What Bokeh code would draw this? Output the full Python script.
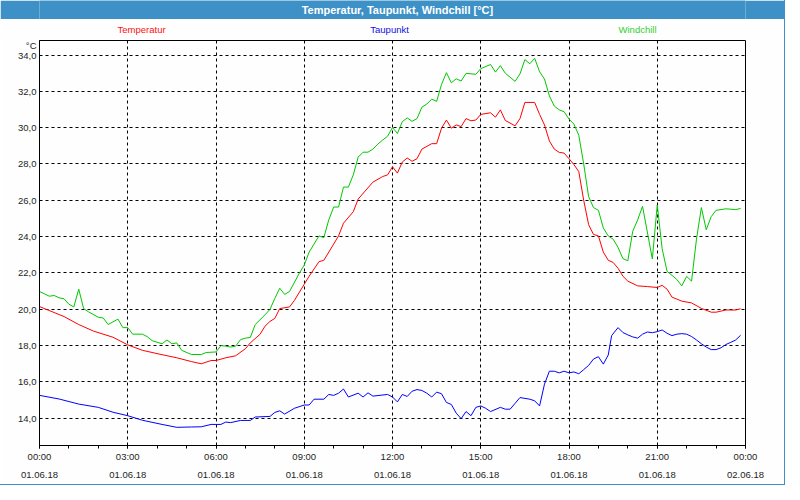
import pandas as pd
from bokeh.plotting import figure
from bokeh.layouts import column
from bokeh.models import (FixedTicker, DatetimeTickFormatter, CustomJSTickFormatter, Range1d)
from bokeh.core.properties import value
from bokeh.embed import file_html
from bokeh.resources import INLINE

# ---------------- data (minutes after midnight, 01.06.2018) ----------------
DAY = "2018-06-01"
TITLE = "Temperatur, Taupunkt, Windchill [°C]"
UNIT = "°C"
series_names = ["Temperatur", "Taupunkt", "Windchill"]

temp_minutes = [0, 50, 80, 110, 150, 180, 210, 250, 280, 310, 330, 350, 360, 380, 400, 420, 430, 450, 460, 470,
                480, 490, 510, 520, 540, 550, 570, 580, 600, 610, 620, 640, 650, 680, 700, 710, 720, 730, 740, 750,
                760, 770, 780, 800, 810, 820, 830, 840, 850, 860, 870, 880, 890, 900, 920, 930, 940, 950, 970, 980,
                990, 1010, 1020, 1030, 1040, 1050, 1060, 1070, 1080, 1090, 1100, 1110, 1120, 1130, 1140, 1150, 1160,
                1170, 1180, 1190, 1200, 1220, 1240, 1260, 1270, 1280, 1290, 1310, 1330, 1350, 1370, 1380, 1400, 1420,
                1430]
temp_values = [20.15, 19.6, 19.16, 18.8, 18.46, 18.04, 17.74, 17.5, 17.33, 17.12, 17.0, 17.18, 17.18, 17.33, 17.44,
               17.83, 18.15, 18.63, 19.07, 19.33, 19.5, 20.04, 20.13, 20.49, 21.38, 21.82, 22.62, 22.7, 23.59, 24.04,
               24.74, 25.37, 26.07, 27.0, 27.31, 27.4, 27.85, 27.5, 28.11, 28.33, 28.15, 28.29, 28.82, 29.12, 29.12,
               29.97, 30.42, 29.97, 30.15, 30.06, 30.5, 30.38, 30.42, 30.73, 30.82, 30.58, 30.98, 30.4, 30.1, 30.5,
               31.39, 31.39, 30.73, 30.15, 29.27, 28.82, 28.64, 28.6, 28.29, 27.97, 27.58, 26.0, 24.66, 24.12, 24.04,
               23.15, 22.7, 22.58, 22.26, 21.82, 21.55, 21.29, 21.25, 21.2, 21.32, 21.11, 20.67, 20.45, 20.35, 20.05,
               19.84, 19.84, 19.96, 19.96, 20.03]

dew_minutes = [0, 40, 80, 120, 150, 180, 210, 250, 280, 310, 330, 350, 370, 380, 390, 410, 430, 440, 470, 480,
               490, 500, 520, 540, 550, 560, 580, 590, 600, 610, 620, 630, 650, 660, 670, 680, 710, 720, 730, 740,
               750, 760, 770, 780, 790, 800, 810, 820, 830, 840, 850, 860, 870, 880, 890, 900, 910, 920, 940, 950,
               960, 970, 980, 1000, 1010, 1020, 1030, 1040, 1050, 1060, 1070, 1080, 1090, 1100, 1110, 1120, 1130,
               1140, 1150, 1160, 1167, 1180, 1190, 1200, 1210, 1220, 1230, 1240, 1250, 1260, 1270, 1280, 1290, 1300,
               1310, 1320, 1330, 1340, 1350, 1360, 1370, 1380, 1390, 1400, 1410, 1420, 1430]
dew_values = [15.26, 15.06, 14.78, 14.6, 14.33, 14.14, 13.89, 13.66, 13.5, 13.52, 13.53, 13.66, 13.66, 13.79, 13.76,
              13.88, 13.88, 14.07, 14.1, 14.32, 14.41, 14.23, 14.55, 14.73, 14.73, 15.05, 15.05, 15.31, 15.26, 15.38,
              15.61, 15.17, 15.38, 15.17, 15.4, 15.22, 15.31, 15.17, 14.9, 15.31, 15.2, 15.49, 15.58, 15.53, 15.38,
              15.17, 15.44, 15.35, 14.87, 14.76, 14.28, 13.98, 14.37, 14.14, 14.6, 14.68, 14.55, 14.37, 14.6, 14.5,
              14.5, 14.82, 15.14, 15.05, 14.96, 14.68, 15.88, 16.59, 16.59, 16.5, 16.59, 16.5, 16.55, 16.45, 16.68,
              16.91, 17.26, 17.39, 16.98, 17.48, 18.55, 18.99, 18.72, 18.59, 18.48, 18.41, 18.63, 18.75, 18.71, 18.77,
              18.86, 18.68, 18.55, 18.63, 18.66, 18.63, 18.5, 18.31, 18.1, 17.92, 17.78, 17.78, 17.88, 18.06, 18.18,
              18.31, 18.57]

wind_minutes = [0, 20, 30, 40, 50, 60, 70, 80, 90, 100, 120, 130, 140, 160, 170, 180, 190, 210, 220, 230, 250, 260,
                270, 280, 290, 310, 330, 340, 360, 370, 380, 390, 400, 410, 420, 430, 440, 460, 470, 480, 490, 500,
                510, 530, 540, 550, 570, 580, 590, 600, 610, 620, 630, 640, 650, 660, 670, 680, 690, 700, 710, 720,
                730, 740, 750, 760, 770, 780, 790, 800, 810, 820, 830, 840, 850, 860, 870, 890, 900, 920, 930, 940,
                950, 970, 980, 990, 1000, 1010, 1020, 1030, 1040, 1050, 1060, 1070, 1080, 1090, 1100, 1110, 1120,
                1130, 1140, 1150, 1160, 1170, 1180, 1190, 1200, 1210, 1220, 1230, 1250, 1260, 1270, 1280, 1290, 1300,
                1310, 1320, 1330, 1340, 1350, 1360, 1370, 1380, 1400, 1420, 1430]
wind_values = [20.98, 20.72, 20.76, 20.63, 20.58, 20.28, 20.13, 21.11, 20.04, 19.86, 19.56, 19.52, 19.16, 19.46,
               18.99, 18.99, 18.63, 18.63, 18.49, 18.27, 18.1, 18.31, 18.1, 18.15, 17.74, 17.51, 17.51, 17.62, 17.65,
               18.0, 17.97, 17.92, 17.97, 18.33, 18.41, 18.45, 19.16, 19.7, 19.99, 20.6, 21.16, 20.82, 20.98, 21.99,
               22.44, 23.15, 24.04, 23.95, 24.92, 25.63, 25.63, 26.73, 26.73, 27.4, 28.38, 28.65, 28.65, 28.82, 29.09,
               29.32, 29.53, 30.01, 29.68, 30.33, 30.54, 30.35, 30.5, 31.13, 31.3, 31.57, 31.45, 32.38, 33.03, 32.47,
               32.69, 32.57, 32.99, 32.94, 33.25, 33.48, 33.06, 33.42, 33.0, 32.55, 32.96, 33.75, 33.52, 33.82, 33.08,
               32.68, 31.75, 31.19, 30.98, 30.88, 30.47, 30.2, 29.58, 28.0, 26.2, 25.6, 25.45, 24.48, 24.04, 23.86,
               23.41, 22.79, 22.67, 24.3, 24.92, 25.67, 22.77, 25.74, 23.33, 22.09, 21.87, 21.64, 21.29, 21.81, 21.55,
               23.86, 25.6, 24.38, 25.1, 25.45, 25.53, 25.49, 25.55]

x_tick_hours = [0, 3, 6, 9, 12, 15, 18, 21, 24]
x_minor_hours = list(range(0, 25))
y_ticks = [14, 16, 18, 20, 22, 24, 26, 28, 30, 32, 34]
unit_tick = 34.6
y_min, y_max = 12.5, 34.8
label_hours = [3.47, 11.9, 20.33]

# ---------------- helpers ----------------
base = pd.Timestamp(DAY)


def to_dt(minutes):
    return [base + pd.Timedelta(minutes=m) for m in minutes]


def ms(ts):
    return ts.value / 1e6


FONT = "Liberation Sans"
BG = "#fdfefd"
BLUE_BAR = "#3d91c6"
TXT = "#1e1e1e"
colors = ["#ff0000", "#0000ff", "#00c800"]
label_colors = ["#ff1010", "#1010e0", "#30d030"]

W = 784
BL, BR = 39, 39
x_range = Range1d(base, base + pd.Timedelta(hours=24))

# ---------------- title bar ----------------
tb = figure(width=W, height=19, x_range=Range1d(0, 1), y_range=Range1d(0, 1),
            x_axis_type=None, y_axis_type=None, toolbar_location=None,
            output_backend="svg", min_border=0)
tb.background_fill_color = BLUE_BAR
tb.border_fill_color = BLUE_BAR
tb.outline_line_color = None
tb.grid.visible = False
tb.text(x=[0.507], y=[0.5], text=[TITLE], text_color="white", text_font=value(FONT),
        text_font_style="bold", text_font_size="11px", text_align="center", text_baseline="middle")

# ---------------- series name row ----------------
lg = figure(width=W, height=20, x_range=x_range, y_range=Range1d(0, 1),
            x_axis_type=None, y_axis_type=None, toolbar_location=None,
            output_backend="svg", min_border_left=BL, min_border_right=BR,
            min_border_top=0, min_border_bottom=0)
lg.background_fill_color = BG
lg.border_fill_color = BG
lg.outline_line_color = None
lg.grid.visible = False
lg.text(x=[base + pd.Timedelta(hours=h) for h in label_hours], y=[0.5] * 3, text=series_names,
        text_color=label_colors, text_font=value(FONT), text_font_size="9.5px",
        text_align="center", text_baseline="middle")

# ---------------- main plot ----------------
p = figure(width=W, height=445, x_axis_type="datetime",
           x_range=x_range, y_range=Range1d(y_min, y_max),
           toolbar_location=None, output_backend="svg",
           min_border_left=BL, min_border_right=BR, min_border_top=1, min_border_bottom=39)
p.background_fill_color = BG
p.border_fill_color = BG
p.outline_line_color = "black"
p.outline_line_width = 1

p.line(to_dt(temp_minutes), temp_values, line_color=colors[0], line_width=1)
p.line(to_dt(dew_minutes), dew_values, line_color=colors[1], line_width=1)
p.line(to_dt(wind_minutes), wind_values, line_color=colors[2], line_width=1)

# x axis
xt = [ms(base + pd.Timedelta(hours=h)) for h in x_tick_hours]
xm = [ms(base + pd.Timedelta(hours=h)) for h in x_minor_hours]
p.xaxis.ticker = FixedTicker(ticks=xt, minor_ticks=xm)
fmt = "%H:%M\n%d.%m.%y"
p.xaxis.formatter = DatetimeTickFormatter(microseconds=fmt, milliseconds=fmt, seconds=fmt, minsec=fmt,
                                          minutes=fmt, hourmin=fmt, hours=fmt, days=fmt, months=fmt, years=fmt)
p.xaxis.major_tick_out = 3
p.xaxis.major_tick_in = 0
p.xaxis.minor_tick_out = 3
p.xaxis.minor_tick_in = 0
p.xaxis.major_label_standoff = 2
p.xaxis.major_label_text_line_height = 1.7

# y axis (extra tick at the top carries the unit label)
p.yaxis.ticker = FixedTicker(ticks=y_ticks + [unit_tick])
p.yaxis.formatter = CustomJSTickFormatter(
    args=dict(unit=UNIT, ut=unit_tick),
    code="if (Math.abs(tick - ut) < 1e-6) { return unit; } return tick.toFixed(1).replace('.', ',');")
p.yaxis.major_tick_out = 0
p.yaxis.major_tick_in = 0
p.yaxis.minor_tick_out = 0
p.yaxis.minor_tick_in = 0
p.yaxis.major_label_standoff = 3

for ax in (p.xaxis[0], p.yaxis[0]):
    ax.axis_line_color = "black"
    ax.major_tick_line_color = "black"
    ax.minor_tick_line_color = "black"
    ax.major_label_text_font = FONT
    ax.major_label_text_font_size = "9.5px"
    ax.major_label_text_color = TXT

# grid
p.ygrid[0].ticker = FixedTicker(ticks=y_ticks)
for g in (p.xgrid[0], p.ygrid[0]):
    g.grid_line_color = "black"
    g.grid_line_dash = "3 3"
    g.grid_line_width = 1
    g.grid_line_alpha = 1.0

layout = column(tb, lg, p, spacing=0, styles={"outline": "1px solid " + BLUE_BAR})

open("out.html", "w").write(file_html(layout, INLINE))
